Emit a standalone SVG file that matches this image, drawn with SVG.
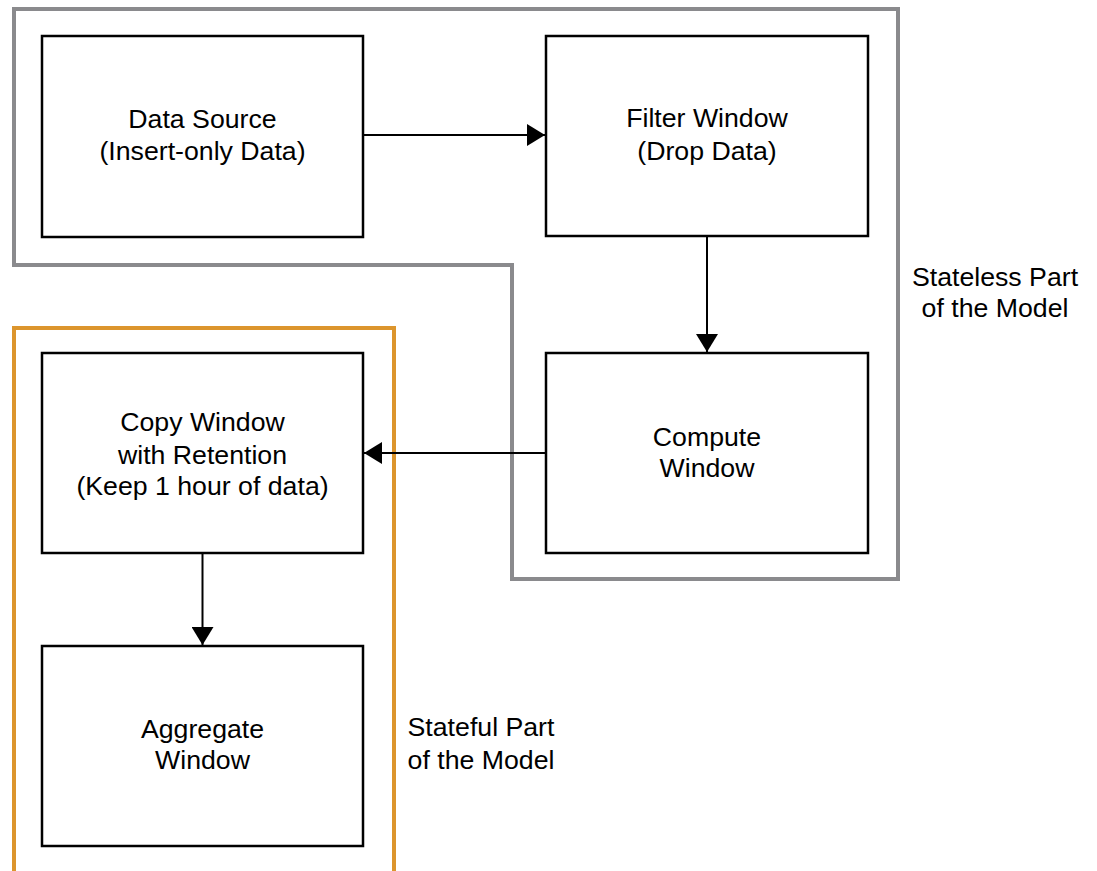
<svg xmlns="http://www.w3.org/2000/svg" width="1097" height="871" viewBox="0 0 1097 871">
  <style>
    .node { fill: #ffffff; stroke: #000000; stroke-width: 2.5; }
    .label { font-family: "Liberation Sans", Arial, sans-serif; font-size: 26.7px; fill: #000000; text-anchor: middle; }
    .edge { fill: none; stroke: #000000; stroke-width: 2; }
    .zone-stateless { fill: none; stroke: #8a8a8d; stroke-width: 4; }
    .zone-stateful { fill: none; stroke: #dc952d; stroke-width: 4; }
  </style>
  <defs>
    <marker id="arrow" viewBox="0 0 18 22" refX="18" refY="11" markerWidth="18" markerHeight="22" markerUnits="userSpaceOnUse" orient="auto">
      <path d="M0,0 L18,11 L0,22 Z" fill="#000000"/>
    </marker>
  </defs>

  <rect width="1097" height="871" fill="#ffffff"/>

  <!-- Stateless boundary -->
  <g id="zone-stateless">
    <path class="zone-stateless" d="M14,9 H898 V579 H512 V265 H14 Z"/>
    <text class="label" x="995" y="286">Stateless Part</text>
    <text class="label" x="995" y="317">of the Model</text>
  </g>

  <!-- Stateful boundary -->
  <g id="zone-stateful">
    <path class="zone-stateful" d="M14,875 V328 H394 V875"/>
    <text class="label" x="481" y="736">Stateful Part</text>
    <text class="label" x="481" y="769">of the Model</text>
  </g>

  <g id="data-source">
    <rect class="node" x="42" y="36" width="321" height="201"/>
    <text class="label" x="202.5" y="128">Data Source</text>
    <text class="label" x="202.5" y="160">(Insert-only Data)</text>
  </g>

  <g id="filter-window">
    <rect class="node" x="546" y="36" width="322" height="200"/>
    <text class="label" x="707" y="127">Filter Window</text>
    <text class="label" x="707" y="160">(Drop Data)</text>
  </g>

  <g id="compute-window">
    <rect class="node" x="546" y="353" width="322" height="200"/>
    <text class="label" x="707" y="446">Compute</text>
    <text class="label" x="707" y="477">Window</text>
  </g>

  <g id="copy-window">
    <rect class="node" x="42" y="353" width="321" height="200"/>
    <text class="label" x="202.5" y="431">Copy Window</text>
    <text class="label" x="202.5" y="464">with Retention</text>
    <text class="label" x="202.5" y="495">(Keep 1 hour of data)</text>
  </g>

  <g id="aggregate-window">
    <rect class="node" x="42" y="646" width="321" height="200"/>
    <text class="label" x="202.5" y="738">Aggregate</text>
    <text class="label" x="202.5" y="769">Window</text>
  </g>

  <g id="connectors">
    <line class="edge" x1="364" y1="135" x2="545" y2="135" marker-end="url(#arrow)"/>
    <line class="edge" x1="707" y1="237" x2="707" y2="352" marker-end="url(#arrow)"/>
    <line class="edge" x1="545" y1="453" x2="364" y2="453" marker-end="url(#arrow)"/>
    <line class="edge" x1="202.5" y1="554" x2="202.5" y2="645" marker-end="url(#arrow)"/>
  </g>
</svg>
